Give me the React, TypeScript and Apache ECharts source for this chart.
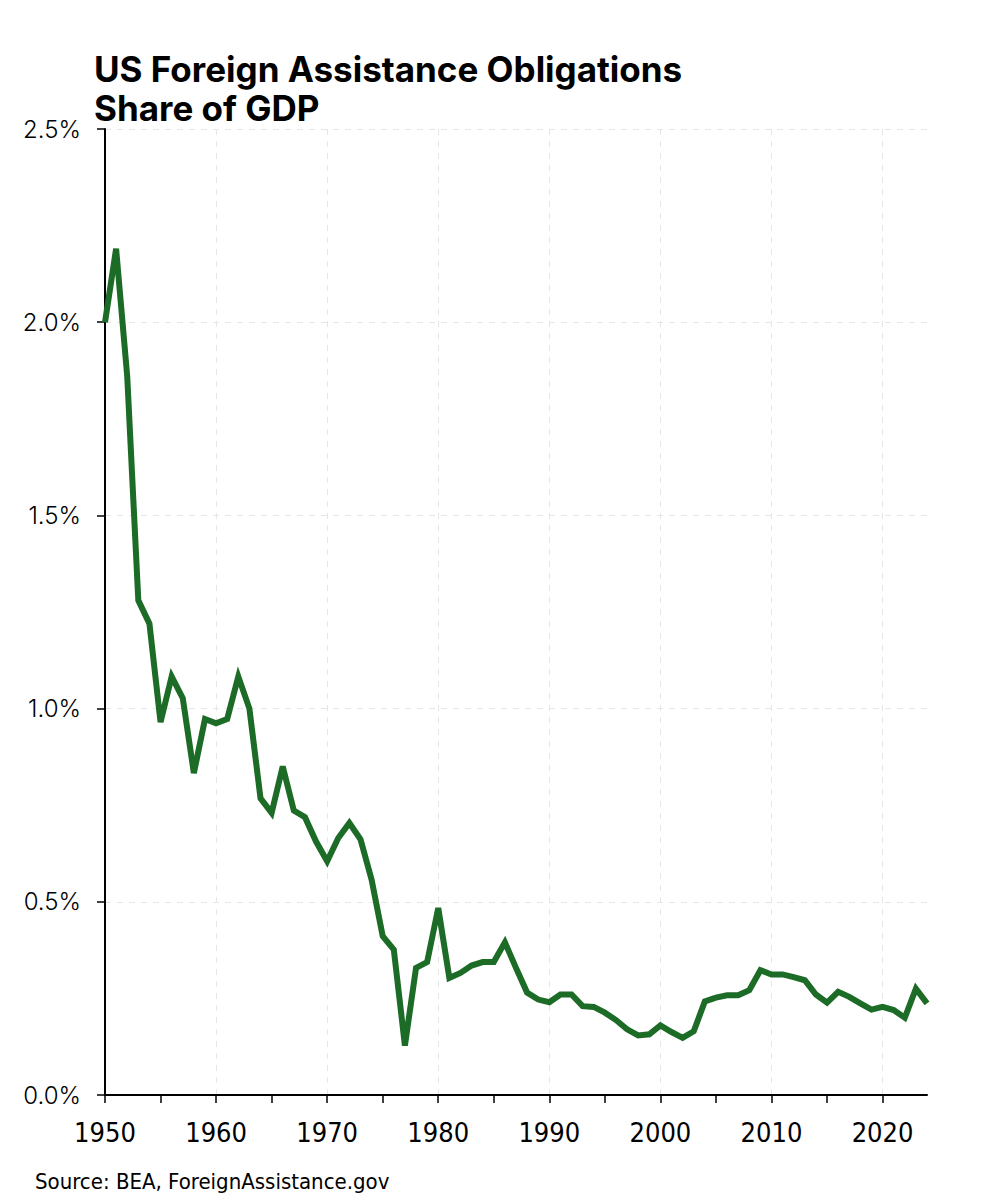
import React, { useEffect, useRef } from "react";
import * as echarts from "echarts";

const years: number[] = [];
for (let y = 1950; y <= 2024; y++) years.push(y);

const shareOfGdp: number[] = [
  2.0, 2.19, 1.86, 1.28, 1.22, 0.965, 1.083, 1.027, 0.833, 0.973,
  0.962, 0.973, 1.083, 1.0, 0.768, 0.73, 0.85, 0.736, 0.719, 0.656,
  0.605, 0.665, 0.704, 0.662, 0.557, 0.411, 0.376, 0.128, 0.329, 0.344,
  0.484, 0.303, 0.316, 0.335, 0.344, 0.344, 0.395, 0.329, 0.265, 0.247,
  0.24, 0.26, 0.26, 0.23, 0.228, 0.213, 0.194, 0.17, 0.154, 0.157,
  0.18, 0.163, 0.148, 0.165, 0.242, 0.252, 0.258, 0.258, 0.271, 0.323,
  0.312, 0.312, 0.305, 0.297, 0.26, 0.239, 0.267, 0.254, 0.237, 0.221,
  0.228, 0.22, 0.2, 0.275, 0.237,
];

const labelYears = [1950, 1960, 1970, 1980, 1990, 2000, 2010, 2020];
const gridYears = [1960, 1970, 1980, 1990, 2000, 2010, 2020];
const tickYears = [1950, 1955, 1960, 1965, 1970, 1975, 1980, 1985, 1990, 1995, 2000, 2005, 2010, 2015, 2020];

const titleText = "US Foreign Assistance Obligations\nShare of GDP";
const sourceText = "Source: BEA, ForeignAssistance.gov";

export default function App() {
  const ref = useRef<HTMLDivElement>(null);
  useEffect(() => {
    document.body.style.margin = "0";
    const chart = echarts.init(ref.current!, null, { renderer: "svg" });
    const condensed = '"Liberation Sans Narrow", "DejaVu Sans Condensed", Roboto, sans-serif';
    chart.setOption({
      animation: false,
      backgroundColor: "#ffffff",
      title: {
        text: titleText,
        left: 94,
        top: 49,
        padding: 0,
        textStyle: {
          fontFamily: "Inter, sans-serif",
          fontWeight: 700,
          fontSize: 35,
          lineHeight: 39,
          color: "#000000",
        },
      },
      graphic: [
        {
          type: "text",
          left: 35,
          top: 1170,
          style: {
            text: sourceText,
            font: '22px ' + condensed,
            fill: "#000000",
          },
        },
      ],
      grid: { left: 105, right: 59, top: 129, bottom: 105, containLabel: false },
      xAxis: [
        {
          type: "value",
          min: 1950,
          max: 2024,
          interval: 10,
          axisLine: { show: true, onZero: false, lineStyle: { color: "#000", width: 2 } },
          axisTick: { show: false, customValues: gridYears },
          axisLabel: {
            customValues: labelYears,
            margin: 24,
            fontFamily: condensed,
            fontSize: 27,
            color: "#000",
            formatter: (v: number) => String(v),
          },
          splitLine: { show: true, lineStyle: { color: "#e6e6e6", type: [6, 6], width: 1 } },
        },
        {
          type: "value",
          min: 1950,
          max: 2024,
          position: "bottom",
          axisLine: { show: false },
          axisTick: { show: true, customValues: tickYears, length: 8, lineStyle: { color: "#000", width: 1.5 } },
          axisLabel: { show: false },
          splitLine: { show: false },
        },
      ],
      yAxis: {
        type: "value",
        min: 0,
        max: 2.5,
        interval: 0.5,
        axisLine: { show: true, lineStyle: { color: "#000", width: 2 } },
        axisTick: { show: true, length: 8, lineStyle: { color: "#000", width: 1.5 } },
        axisLabel: {
          margin: 24,
          fontFamily: "Inter, sans-serif",
          fontWeight: 300,
          fontSize: 24,
          color: "#000",
          formatter: (v: number) => v.toFixed(1) + "%",
        },
        splitLine: { show: true, lineStyle: { color: "#e6e6e6", type: [6, 6], width: 1 } },
      },
      series: [
        {
          type: "line",
          data: years.map((y, i) => [y, shareOfGdp[i]]),
          showSymbol: false,
          symbol: "none",
          lineStyle: { color: "#1c6b26", width: 6, join: "miter" },
          z: 5,
        },
      ],
    });
    return () => chart.dispose();
  }, []);
  return <div ref={ref} style={{ width: 986, height: 1200 }} />;
}
